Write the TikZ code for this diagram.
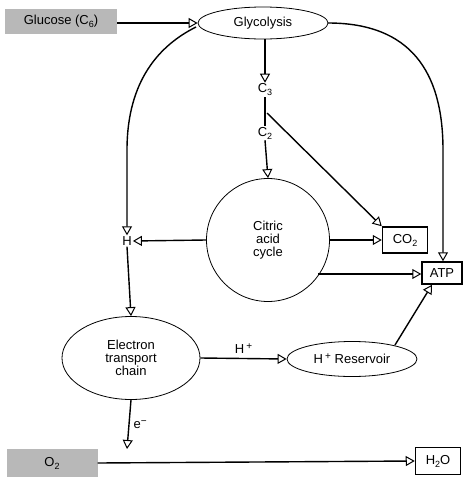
\documentclass[tikz,border=0pt]{standalone}
\usepackage{fontspec}
\setmainfont{Liberation Sans}
\usetikzlibrary{arrows.meta,shapes.geometric}
\newcommand{\sbs}[1]{\raisebox{-3pt}{\fontsize{9}{9}\selectfont #1}}
\newcommand{\sps}[1]{\raisebox{4pt}{\fontsize{10}{10}\selectfont #1}}
\begin{document}
\begin{tikzpicture}[x=1pt,y=-1pt,
  font=\fontsize{13}{14}\selectfont,
  conn/.style={line width=1.4pt,-{Triangle[open,length=9pt,width=10pt,line width=1pt]}},
  plain/.style={line width=1.4pt},
  oval/.style={draw,ellipse,line width=0.8pt,inner sep=0pt},
  prod/.style={draw,line width=1.5pt,inner sep=0pt,align=center},
  gray/.style={fill=black!28,inner sep=0pt,align=center},
  lbl/.style={inner sep=1pt}]
\useasboundingbox (0,0) rectangle (464,477);
% nodes
\node[gray,minimum width=112pt,minimum height=25pt] (glu) at (61,21) {Glucose (C\sbs{6})};
\node[oval,minimum width=130pt,minimum height=32pt] (gly) at (263,23) {Glycolysis};
\node[lbl] (c3) at (265,90) {C\sbs{3}};
\node[lbl] (c2) at (265,133) {C\sbs{2}};
\node[draw,circle,line width=0.8pt,minimum size=123pt,inner sep=0pt,align=center] (cac) at (268,240) {Citric\\[-1pt]acid\\[-1pt]cycle};
\node[lbl] (h) at (127,241) {H};
\node[prod,minimum width=45pt,minimum height=26pt] (co2) at (405,240) {CO\sbs{2}};
\node[prod,minimum width=40pt,minimum height=22pt] (atp) at (442,273) {ATP};
\node[oval,minimum width=138pt,minimum height=83pt,align=center] (etc) at (131,358) {Electron\\[-1pt]transport\\[-1pt]chain};
\node[oval,minimum width=130pt,minimum height=35pt] (res) at (352,359) {H\,\sps{+} Reservoir};
\node[gray,minimum width=91pt,minimum height=28pt] (o2) at (52,463) {O\sbs{2}};
\node[prod,minimum width=45pt,minimum height=27pt] (h2o) at (438,461) {H\sbs{2}O};
\coordinate (gl) at (196,27);
\coordinate (gr) at (328,23);
\coordinate (cmid) at (267,113);
\coordinate (atpin) at (318,274);
\coordinate (resout) at (395,345);
% connectors
\draw[conn] (glu.east |- 0,23) -- (gly.west |- 0,23);
\draw[conn] (gly.south -| c3) -- (c3.north);
\draw[plain] (c3.south) -- (c2.north);
\draw[conn] (c2.south) -- (cac.north);
\draw[conn] (cmid) -- (co2.north west);
\draw[conn] (cac.east) -- (co2.west);
\draw[conn] (cac.west) -- (h.east);
\draw[conn] (atpin) -- (atp.west |- atpin);
\draw[conn] (gr) .. controls (400,23) and (443,60) .. (443,150) -- (atp.north -| 443,0);
\draw[conn] (gl) .. controls (160,45) and (127,80) .. (127,150) -- (h.north);
\draw[conn] (h.south) -- (etc.north);
\draw[conn] (etc.east) -- node[above,lbl,yshift=3pt] {H\,\sps{+}} (res.west);
\draw[conn] (resout) -- (atp.south -| 432,0);
\draw[conn] (etc.south) -- node[right,lbl,xshift=3pt] {e\sps{−}} (127,449);
\draw[conn] (o2.east) -- (h2o.west);
\end{tikzpicture}
\end{document}
